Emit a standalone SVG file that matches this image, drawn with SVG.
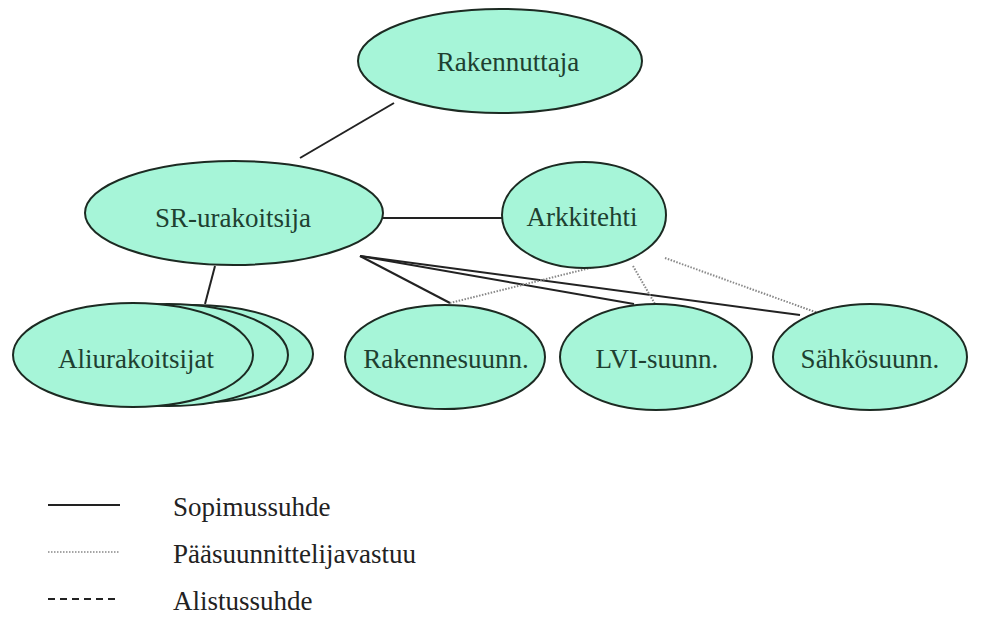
<svg xmlns="http://www.w3.org/2000/svg" width="981" height="618" viewBox="0 0 981 618">
<style>
.node ellipse{fill:#a6f5d8;stroke:#1c2a22;stroke-width:2}
.node text{font-family:"Liberation Serif","Times New Roman",serif;font-size:27px;fill:#1e4030;text-anchor:middle}
.solid{stroke:#222;stroke-width:2;fill:none}
.dotted{stroke:#888;stroke-width:2;stroke-dasharray:1.5 1.5;fill:none}
.dashed{stroke:#222;stroke-width:2;stroke-dasharray:7 5;fill:none}
.legend text{font-family:"Liberation Serif","Times New Roman",serif;font-size:27px;fill:#222}
</style>
<rect width="981" height="618" fill="#fff"/>
<g id="connectors">
<line class="solid" x1="394" y1="103" x2="300" y2="158"/>
<line class="solid" x1="383" y1="218" x2="502" y2="218"/>
<line class="solid" x1="215" y1="266" x2="205" y2="304"/>
<line class="solid" x1="360" y1="256" x2="450" y2="303"/>
<line class="solid" x1="360" y1="256" x2="634" y2="304"/>
<line class="solid" x1="360" y1="256" x2="800" y2="315"/>
<line class="dotted" x1="594" y1="267" x2="450" y2="303"/>
<line class="dotted" x1="633" y1="266" x2="655" y2="304"/>
<line class="dotted" x1="665" y1="258" x2="818" y2="313"/>
</g>
<g id="rakennuttaja" class="node">
<ellipse cx="500" cy="61" rx="142" ry="52"/>
<text x="508" y="71">Rakennuttaja</text>
</g>
<g id="sr-urakoitsija" class="node">
<ellipse cx="234" cy="213" rx="149" ry="52"/>
<text x="233" y="227">SR-urakoitsija</text>
</g>
<g id="arkkitehti" class="node">
<ellipse cx="584" cy="215" rx="82" ry="53"/>
<text x="582" y="226">Arkkitehti</text>
</g>
<g id="aliurakoitsijat" class="node">
<ellipse cx="193" cy="354" rx="120" ry="49"/>
<ellipse cx="168" cy="355" rx="120" ry="51"/>
<ellipse cx="133" cy="355" rx="120" ry="52"/>
<text x="136" y="368">Aliurakoitsijat</text>
</g>
<g id="rakennesuunn" class="node">
<ellipse cx="445" cy="357" rx="100" ry="52"/>
<text x="446" y="368">Rakennesuunn.</text>
</g>
<g id="lvi-suunn" class="node">
<ellipse cx="656" cy="357" rx="96" ry="53"/>
<text x="657" y="368">LVI-suunn.</text>
</g>
<g id="sahkosuunn" class="node">
<ellipse cx="870" cy="357" rx="97" ry="53"/>
<text x="870" y="368">Sähkösuunn.</text>
</g>
<g id="legend" class="legend">
<line class="solid" x1="48" y1="505" x2="120" y2="505"/>
<text x="173" y="516">Sopimussuhde</text>
<line class="dotted" x1="48" y1="552" x2="120" y2="552" style="stroke-width:1.5"/>
<text x="173" y="563">Pääsuunnittelijavastuu</text>
<line class="dashed" x1="48" y1="599" x2="120" y2="599"/>
<text x="173" y="610">Alistussuhde</text>
</g>
</svg>
